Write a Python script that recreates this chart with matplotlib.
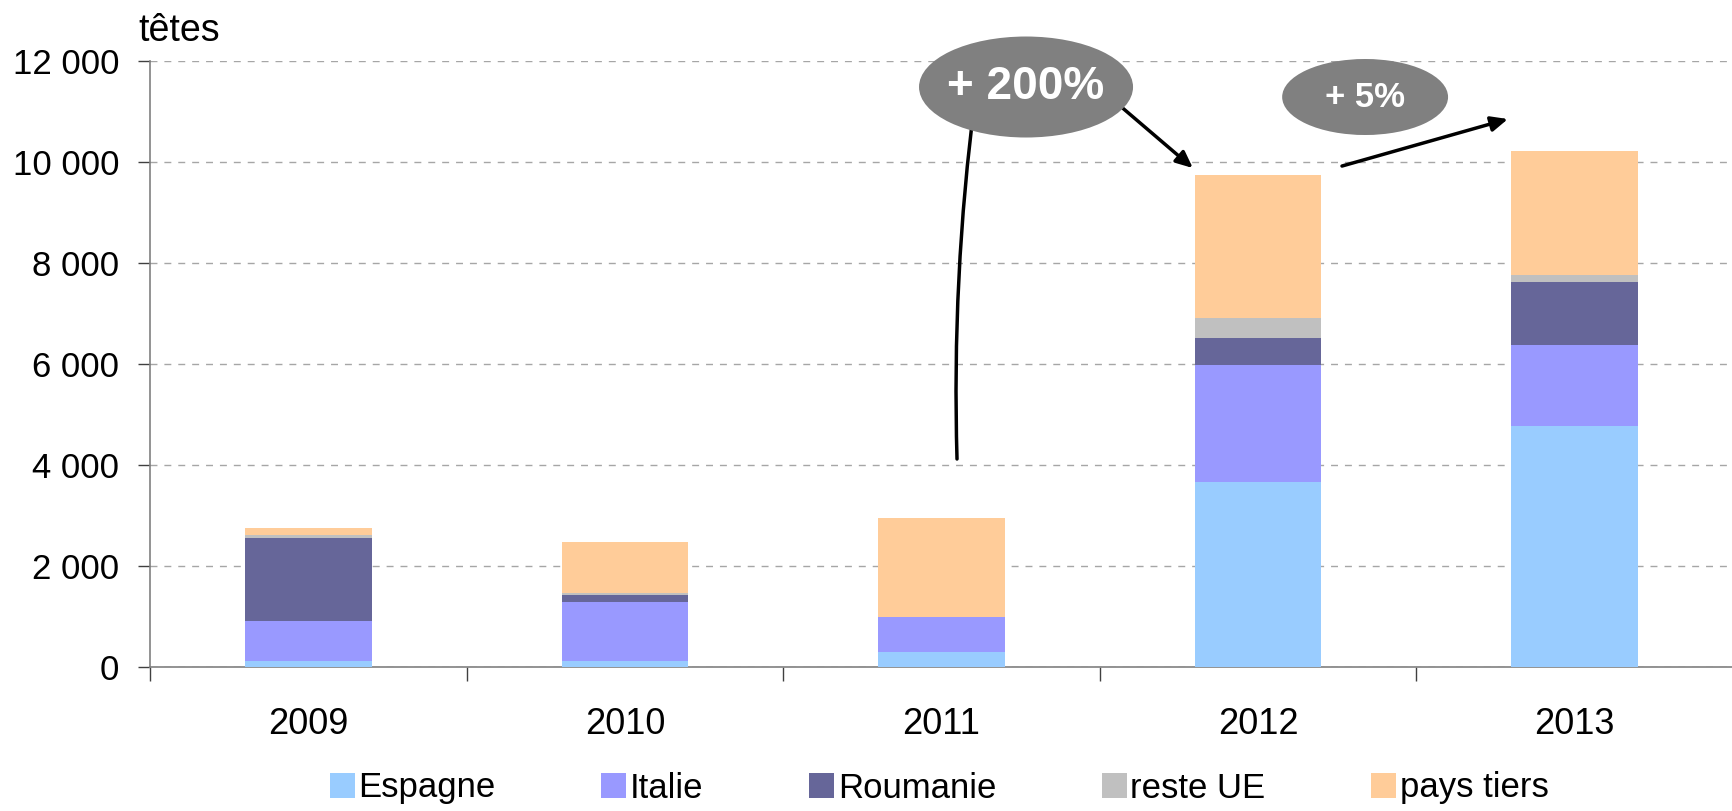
import matplotlib
matplotlib.use("Agg")
import matplotlib.pyplot as plt
from matplotlib.patches import Ellipse
from matplotlib.ticker import FuncFormatter, FixedLocator, NullFormatter
import numpy as np

plt.rcParams['font.family'] = ['Liberation Sans', 'DejaVu Sans']

years = ['2009', '2010', '2011', '2012', '2013']
espagne = [110, 110, 290, 3660, 4770]
italie = [800, 1180, 700, 2315, 1600]
roumanie = [1635, 140, 0, 535, 1245]
reste_ue = [60, 40, 0, 410, 140]
pays_tiers = [140, 1015, 1970, 2830, 2470]

series = [
    ('Espagne', espagne, '#99CCFF'),
    ('Italie', italie, '#9999FF'),
    ('Roumanie', roumanie, '#666699'),
    ('reste UE', reste_ue, '#C0C0C0'),
    ('pays tiers', pays_tiers, '#FFCC99'),
]

W, H = 1733, 811
fig = plt.figure(figsize=(W / 100, H / 100), dpi=100)
ax = fig.add_axes([150 / W, 1 - 667 / H, (W - 150) / W, (667 - 61) / H])

x = np.arange(len(years))
bottom = np.zeros(len(years))
for name, vals, col in series:
    v = np.array(vals, dtype=float)
    ax.bar(x, v, width=0.4, bottom=bottom, color=col, label=name, zorder=3)
    bottom += v

ax.set_xlim(-0.5, 4.5)
ax.set_ylim(0, 12000)

# grid
ax.set_yticks(np.arange(0, 12001, 2000))
ax.yaxis.set_major_formatter(FuncFormatter(lambda v, p: f"{int(v):,}".replace(",", " ")))
ax.grid(axis='y', color='#A6A6A6', linestyle=(0, (5, 5)), linewidth=1.0, zorder=0)
ax.tick_params(axis='y', direction='out', length=8.6, width=1, color='#404040',
               labelsize=25, pad=13.5)

# x ticks: boundaries as major ticks, labels on minor
ax.xaxis.set_major_locator(FixedLocator([-0.5, 0.5, 1.5, 2.5, 3.5, 4.5]))
ax.xaxis.set_major_formatter(NullFormatter())
ax.xaxis.set_minor_locator(FixedLocator(x))
ax.set_xticklabels(years, minor=True)
ax.tick_params(axis='x', which='major', direction='out', length=10, width=1, color='#404040')
ax.tick_params(axis='x', which='minor', length=0, labelsize=26, pad=29)

for s in ['top', 'right']:
    ax.spines[s].set_visible(False)
for s in ['left', 'bottom']:
    ax.spines[s].set_color('#808080')
    ax.spines[s].set_linewidth(1.2)

fig.text(138 / W, 1 - 31 / H, 'têtes', fontsize=27, va='center', ha='left')

# annotations
e1 = Ellipse((2.267, 11485), 0.676, 2000, facecolor='#808080', edgecolor='none',
             clip_on=False, zorder=5)
ax.add_patch(e1)
ax.text(2.267, 11485, '+ 200%', color='white', fontsize=33, fontweight='bold',
        ha='center', va='center', zorder=6, clip_on=False)
e2 = Ellipse((3.338, 11287), 0.524, 1505, facecolor='#808080', edgecolor='none',
             clip_on=False, zorder=5)
ax.add_patch(e2)
ax.text(3.338, 11287, '+ 5%', color='white', fontsize=25, fontweight='bold',
        ha='center', va='center', zorder=6, clip_on=False)

ax.annotate('', xy=(2.106, 11248), xytext=(2.049, 4119),
            arrowprops=dict(arrowstyle='-', color='black', lw=2.5,
                            connectionstyle='arc3,rad=-0.04',
                            shrinkA=0, shrinkB=0), zorder=4)
ax.annotate('', xy=(2.794, 9880), xytext=(2.561, 11128),
            arrowprops=dict(arrowstyle='-|>,head_length=1.0,head_width=0.45', color='black',
                            lw=2.5, shrinkA=0, shrinkB=0), zorder=4)
ax.annotate('', xy=(3.789, 10851), xytext=(3.265, 9920),
            arrowprops=dict(arrowstyle='-|>,head_length=1.0,head_width=0.45', color='black',
                            lw=2.5, shrinkA=0, shrinkB=0), zorder=4)

leg = ax.legend(loc='center', bbox_to_anchor=(0.542, 23 / H), bbox_transform=fig.transFigure,
                ncol=5, frameon=False, fontsize=25, handlelength=0.72, handleheight=0.72,
                handletextpad=0.1, columnspacing=3.05, borderpad=0, borderaxespad=0)

fig.savefig('out.png', dpi=100)
